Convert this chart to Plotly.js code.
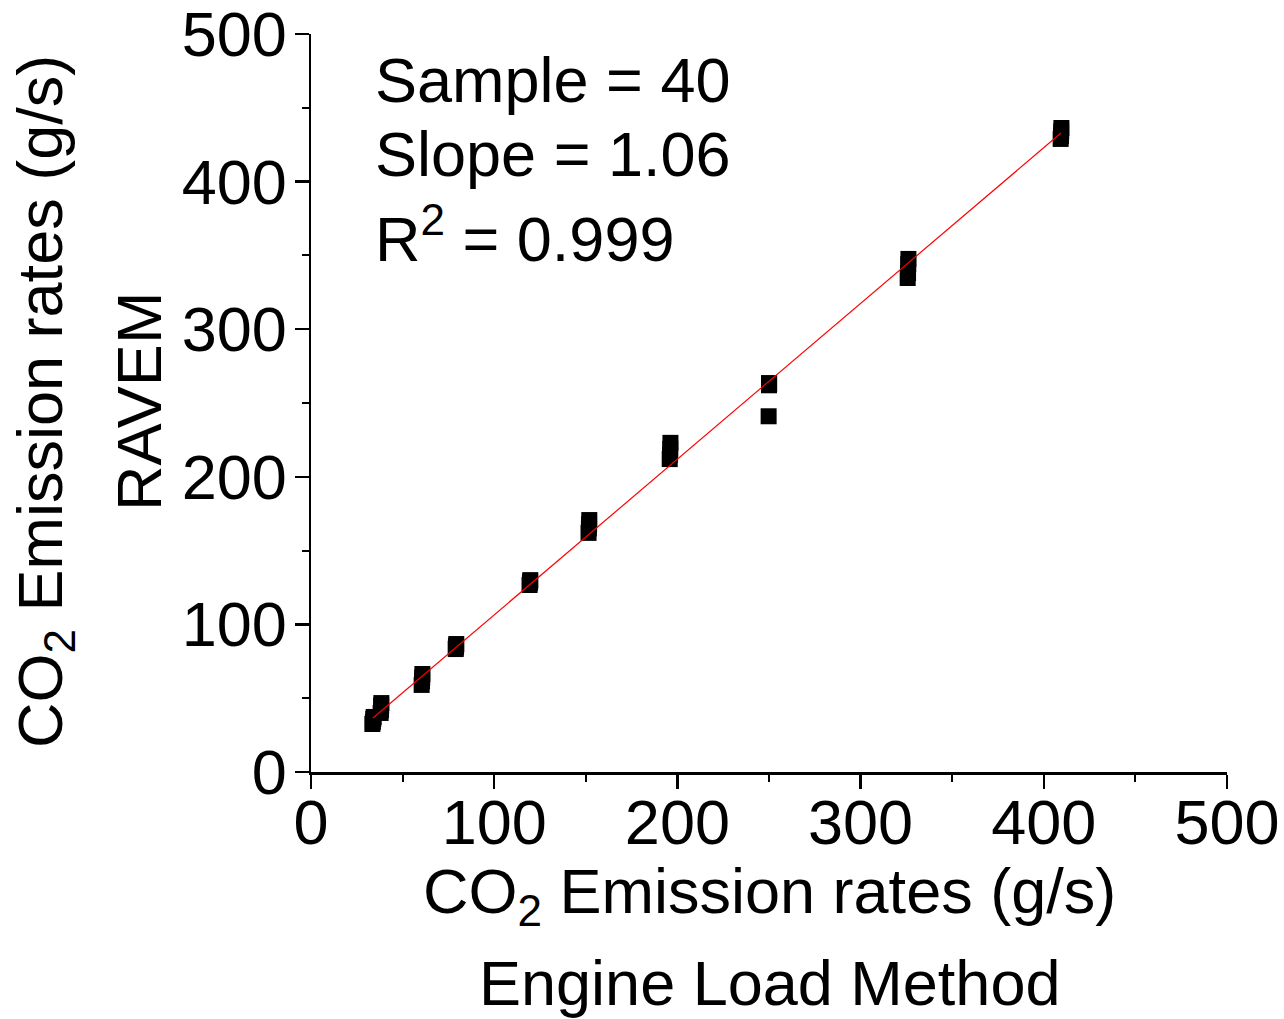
<!DOCTYPE html>
<html>
<head>
<meta charset="utf-8">
<script src="https://cdn.plot.ly/plotly-3.0.1.min.js"></script>
<style>
html,body{margin:0;padding:0;background:#fff;}
#chart{width:1284px;height:1019px;}
</style>
</head>
<body>
<div id="chart"></div>
<script>
// Engine Load Method CO2 (g/s)
const engineLoad = [
  33.5, 33.8, 34.0, 34.2,
  38.0, 38.2, 38.3, 38.4,
  60.4, 60.6, 60.7, 60.8,
  79.0, 79.1, 79.2, 79.3,
  119.3, 119.5, 119.6, 119.7,
  151.5, 151.7, 151.8, 151.9,
  195.8, 196.0, 196.1, 196.2,
  249.8, 250.0, 250.1, 250.0,
  325.7, 325.9, 326.0, 326.1,
  409.2, 409.4, 409.5, 409.6
];
// RAVEM CO2 (g/s)
const ravem = [
  32.5, 34.0, 36.0, 37.3,
  40.0, 42.0, 45.0, 46.7,
  59.0, 61.5, 64.0, 66.4,
  83.3, 84.5, 85.5, 86.7,
  126.7, 128.0, 129.0, 130.0,
  162.0, 165.0, 168.0, 170.7,
  212.0, 215.0, 219.0, 223.0,
  241.0, 262.0, 263.0, 263.5,
  334.7, 338.0, 344.0, 347.6,
  428.9, 431.0, 434.0, 436.3
];
// Linear fit endpoints
const fitX = [33.8, 409.4];
const fitY = [36.6, 432.9];

const statLines = ["Sample = 40", "Slope = 1.06", "R<sup>2</sup> = 0.999"];
const xTitleLines = ["CO<sub>2</sub> Emission rates (g/s)", "Engine Load Method"];
const yTitleLines = ["CO<sub>2</sub> Emission rates (g/s)", "RAVEM"];
const tickVals = [0, 100, 200, 300, 400, 500];

const FONT = "Liberation Sans, Arial, sans-serif";
const FS = 63;

const traces = [
  {
    x: engineLoad, y: ravem, type: "scatter", mode: "markers",
    marker: {symbol: "square", size: 16, color: "#000000", line: {width: 0}},
    showlegend: false, cliponaxis: false
  },
  {
    x: fitX, y: fitY, type: "scatter", mode: "lines",
    line: {color: "#ff0000", width: 1.2},
    showlegend: false
  }
];

function axisCommon(standoff) {
  return {
    range: [0, 500],
    tickvals: tickVals,
    ticktext: tickVals.map(String),
    ticks: "outside",
    ticklen: 14,
    tickwidth: 2.5,
    tickcolor: "#000",
    showline: true,
    linewidth: 2.5,
    linecolor: "#000",
    showgrid: false,
    zeroline: false,
    ticklabeloverflow: "allow",
    ticklabelstandoff: standoff,
    tickfont: {family: FONT, size: FS, color: "#000"},
    minor: {ticks: "outside", ticklen: 7, tickwidth: 2, tickcolor: "#000", dtick: 50, showgrid: false},
    fixedrange: true
  };
}

const annotations = [];
const statShifts = [-46, -120, -200];
statLines.forEach((t, i) => {
  annotations.push({
    text: t, xref: "paper", yref: "paper", x: 0, y: 1,
    xanchor: "left", yanchor: "middle", xshift: 62, yshift: statShifts[i],
    showarrow: false, font: {family: FONT, size: FS, color: "#000"}
  });
});
const xShifts = [-123, -211];
xTitleLines.forEach((t, i) => {
  annotations.push({
    text: t, xref: "paper", yref: "paper", x: 0.5, y: 0,
    xanchor: "center", yanchor: "middle", yshift: xShifts[i],
    showarrow: false, font: {family: FONT, size: FS, color: "#000"}
  });
});
const yShifts = [-267, -172];
yTitleLines.forEach((t, i) => {
  annotations.push({
    text: t, xref: "paper", yref: "paper", x: 0, y: 0.5,
    xanchor: "center", yanchor: "middle", xshift: yShifts[i], yshift: 1,
    textangle: -90,
    showarrow: false, font: {family: FONT, size: FS, color: "#000"}
  });
});

const layout = {
  width: 1284, height: 1019,
  margin: {l: 311, r: 57, t: 34, b: 247, pad: 0},
  paper_bgcolor: "#fff", plot_bgcolor: "#fff",
  font: {family: FONT, size: FS, color: "#000"},
  xaxis: axisCommon(-20),
  yaxis: axisCommon(-5),
  annotations: annotations,
  showlegend: false
};

Plotly.newPlot("chart", traces, layout, {staticPlot: true, displayModeBar: false});
</script>
</body>
</html>
